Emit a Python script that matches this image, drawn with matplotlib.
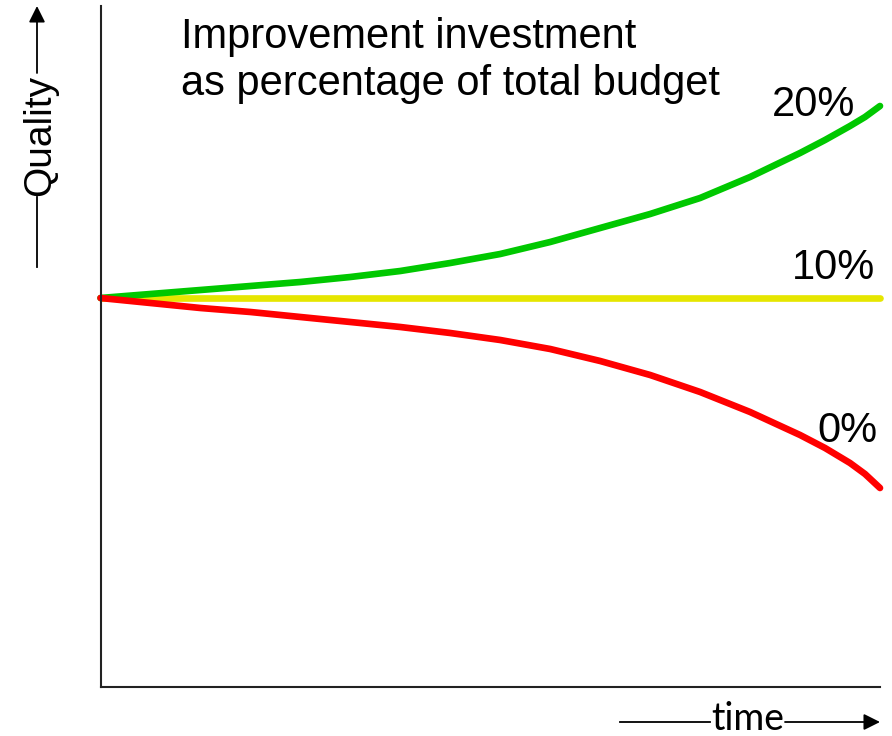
import matplotlib.pyplot as plt

# time (arbitrary units) and quality readings relative to the starting level
time = [0, 50, 100, 150, 200, 250, 300, 350, 400, 450, 500, 550, 600, 650, 700, 725, 750, 765, 780]
quality_20 = [0, 4, 8, 12, 16, 21, 27, 35, 44, 56, 70, 84, 100, 121, 145, 158, 172, 181, 192]
quality_10 = [0] * len(time)
quality_0 = [0, -5, -10, -14, -19, -24, -29, -35, -42, -51, -63, -77, -94, -114, -137, -150, -165, -176, -190]

labels = ["20%", "10%", "0%"]
colors = ["#00C800", "#E6E600", "#FF0000"]
title_lines = ["Improvement investment", "as percentage of total budget"]

W, H = 892, 736
plt.rcParams['font.family'] = ['Liberation Sans', 'DejaVu Sans']

fig = plt.figure(figsize=(W / 100, H / 100), dpi=100)
ax = fig.add_axes([100.5 / W, 1 - 687 / H, (880 - 100.5) / W, (687 - 6) / H])


def fp(x, y):
    """pixel (from top-left) -> figure fraction"""
    return (x / W, 1 - y / H)


# 10% first so the other two sit on top near the origin
ax.plot(time, quality_10, color=colors[1], lw=4.8, solid_capstyle='round', clip_on=False)
ax.plot(time, quality_20, color=colors[0], lw=4.8, solid_capstyle='round', clip_on=False)
ax.plot(time, quality_0, color=colors[2], lw=4.8, solid_capstyle='round', clip_on=False)

ax.set_xlim(0, 780)
ax.set_ylim(-389, 292)
ax.set_xticks([])
ax.set_yticks([])
for s in ['top', 'right']:
    ax.spines[s].set_visible(False)
for s in ['left', 'bottom']:
    ax.spines[s].set_linewidth(1.5)
    ax.spines[s].set_color('#222222')

# curve labels
fs = 30
ax.text(755, 182, labels[0], ha='right', va='baseline', fontsize=fs)
ax.text(775, 19, labels[1], ha='right', va='baseline', fontsize=fs)
ax.text(777, -144, labels[2], ha='right', va='baseline', fontsize=fs)

fig.text(*fp(181, 48), title_lines[0], ha='left', va='baseline', fontsize=fs)
fig.text(*fp(181, 95), title_lines[1], ha='left', va='baseline', fontsize=fs)

arrow = dict(arrowstyle='-|>,head_length=0.7,head_width=0.35', lw=1.3,
             color='black', mutation_scale=14, shrinkA=0, shrinkB=0)

# y axis label with arrow
fig.text(*fp(40, 135), "Quality", rotation=90, ha='center', va='center', fontsize=28)
fig.add_artist(plt.Line2D([37 / W, 37 / W], [1 - 267 / H, 1 - 197 / H], color='black', lw=1.3))
ax.annotate("", xy=fp(37, 6), xytext=fp(37, 73), xycoords='figure fraction',
            textcoords='figure fraction', arrowprops=arrow)

# x axis label with arrow
fig.text(*fp(748, 730), "time", ha='center', va='baseline', fontsize=27,
         family=['Lato', 'DejaVu Sans'])
fig.add_artist(plt.Line2D([620 / W, 710 / W], [1 - 722 / H, 1 - 722 / H], color='black', lw=1.3))
ax.annotate("", xy=fp(880, 722), xytext=fp(785, 722), xycoords='figure fraction',
            textcoords='figure fraction', arrowprops=arrow)

fig.savefig("out.png", dpi=100)
